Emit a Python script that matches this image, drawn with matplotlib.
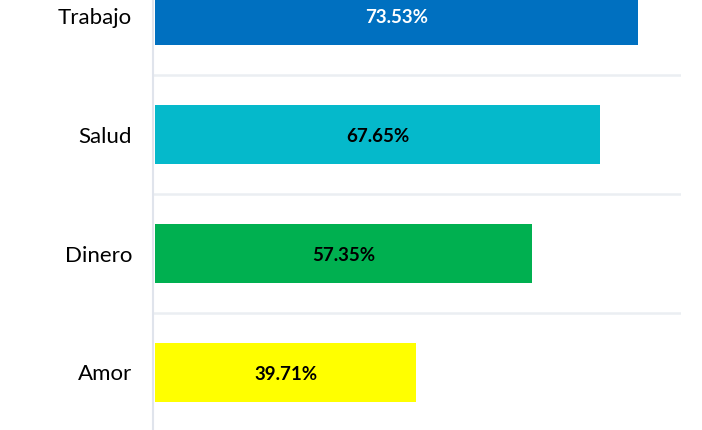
import matplotlib
matplotlib.use("Agg")
import matplotlib.pyplot as plt

categories = ["Amor", "Dinero", "Salud", "Trabajo"]
values = [39.71, 57.35, 67.65, 73.53]
colors = ["#FFFF00", "#00B050", "#05B9CB", "#0070C0"]
label_colors = ["black", "black", "black", "white"]

plt.rcParams['font.family'] = ['Lato', 'DejaVu Sans']

fig = plt.figure(figsize=(7.02, 4.30), dpi=100)
ax = fig.add_axes([153/702, -2/430, 528/702, 476/430])

ypos = list(range(len(categories)))
bars = ax.barh(ypos, values, height=0.5, color=colors, zorder=3)
for y, v, tc in zip(ypos, values, label_colors):
    ax.text(v/2, y - 0.02, f"{v:.2f}%", ha="center", va="center", color=tc,
            fontsize=13.5, fontweight="bold", zorder=4)

for b in [0.5, 1.5, 2.5]:
    ax.axhline(b, color="#EBEEF2", linewidth=1.8, zorder=1)

ax.set_xlim(-0.3, 80.0)
ax.set_ylim(-0.5, 3.5)
ax.set_yticks(ypos)
ax.set_yticklabels(categories, fontsize=16)
ax.tick_params(axis="y", length=0, pad=15)
ax.set_xticks([])
for s in ["top", "right", "bottom"]:
    ax.spines[s].set_visible(False)
ax.spines["left"].set_color("#E0E4EC")
ax.spines["left"].set_linewidth(1.5)

fig.savefig("out.png", dpi=100)
